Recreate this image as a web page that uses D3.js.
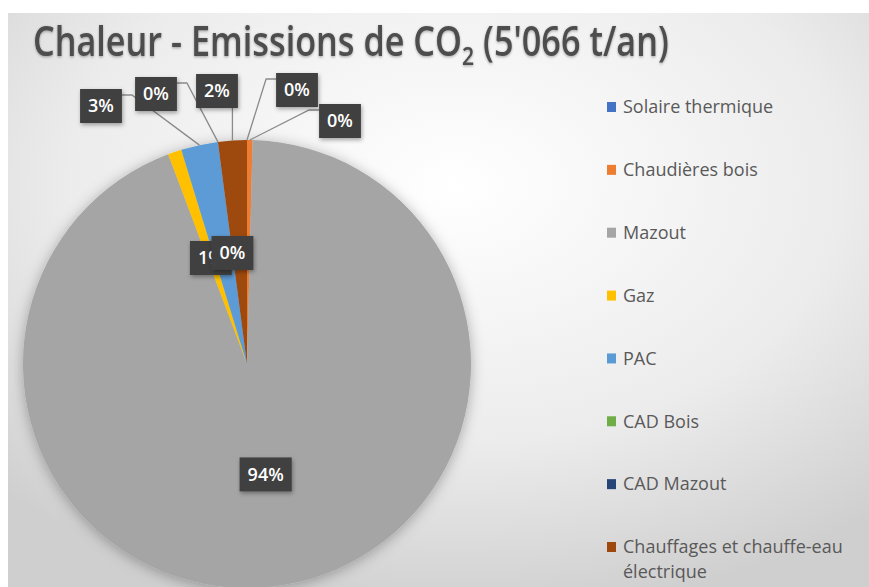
<!DOCTYPE html>
<html lang="fr">
<head>
    <meta charset="UTF-8">
    <title>Chaleur - Emissions de CO2</title>
    <script src="https://d3js.org/d3.v7.min.js"></script>
    <style>
        body { margin: 0; background: #ffffff; }
        svg { display: block; font-family: "Open Sans", "DejaVu Sans", sans-serif; }
    </style>
</head>
<body>
    <svg width="869" height="587"></svg>

    <script>
        // --- données ---
        const categories = ["Solaire thermique", "Chaudières bois", "Mazout", "Gaz", "PAC",
                            "CAD Bois", "CAD Mazout", "Chauffages et chauffe-eau électrique"];
        const emissions = [0, 20, 4756, 50, 135, 0, 0, 105];   // t CO2 / an
        const colors = ["#4472C4", "#ED7D31", "#A5A5A5", "#FFC000", "#5B9BD5",
                        "#70AD47", "#264478", "#9E480E"];

        const svg = d3.select("svg");
        const width = +svg.attr("width");
        const height = +svg.attr("height");

        const cx = 247, cy = 364, radius = 224;

        // étiquettes placées à l'extérieur (décalage depuis le centre du camembert)
        const outerLabels = {
            0: [50, -274],
            1: [93, -243],
            4: [-146, -258],
            5: [-91, -270],
            7: [-30, -273]
        };

        const total = d3.sum(emissions);
        const swiss = d3.formatLocale({ decimal: ".", thousands: "'", grouping: [3], currency: ["", ""] });

        const defs = svg.append("defs");
        const bg = defs.append("radialGradient")
            .attr("id", "bg")
            .attr("cx", "52%").attr("cy", "30%").attr("r", "75%");
        bg.append("stop").attr("offset", "0%").attr("stop-color", "#ffffff");
        bg.append("stop").attr("offset", "60%").attr("stop-color", "#ececec");
        bg.append("stop").attr("offset", "100%").attr("stop-color", "#cfcfcf");

        const shadow = defs.append("filter").attr("id", "shadow")
            .attr("x", "-20%").attr("y", "-20%").attr("width", "140%").attr("height", "140%");
        shadow.append("feDropShadow")
            .attr("dx", 0).attr("dy", 2).attr("stdDeviation", 7)
            .attr("flood-color", "#000").attr("flood-opacity", 0.3);

        const boxShadow = defs.append("filter").attr("id", "boxShadow")
            .attr("x", "-30%").attr("y", "-30%").attr("width", "160%").attr("height", "160%");
        boxShadow.append("feDropShadow")
            .attr("dx", 1).attr("dy", 2).attr("stdDeviation", 2)
            .attr("flood-color", "#000").attr("flood-opacity", 0.35);

        const titleShadow = defs.append("filter").attr("id", "titleShadow");
        titleShadow.append("feDropShadow")
            .attr("dx", 0).attr("dy", 1).attr("stdDeviation", 1.5)
            .attr("flood-color", "#000").attr("flood-opacity", 0.35);

        // fond du graphique
        svg.append("rect")
            .attr("x", 8).attr("y", 13)
            .attr("width", width - 8).attr("height", height - 13)
            .attr("fill", "url(#bg)");

        // titre (resserré horizontalement pour imiter une police étroite)
        const titleG = svg.append("g");
        const title = titleG.append("text")
            .attr("x", 0).attr("y", 0)
            .attr("font-size", 42)
            .attr("font-weight", 600)
            .attr("fill", "#4d4d4d")
            .attr("filter", "url(#titleShadow)");
        title.append("tspan").text("Chaleur - Emissions de CO");
        title.append("tspan").attr("font-size", 26).attr("dy", 9).text("2");
        title.append("tspan").attr("dy", -9).text(` (${swiss.format(",")(total)} t/an)`);
        const titleW = title.node().getComputedTextLength();
        titleG.attr("transform", `translate(33,56) scale(${636 / titleW},1)`);

        // camembert
        const pie = d3.pie().sort(null).value(d => d)(emissions);
        const arc = d3.arc().innerRadius(0).outerRadius(radius);

        const g = svg.append("g").attr("transform", `translate(${cx},${cy})`);

        g.append("g")
            .attr("filter", "url(#shadow)")
            .selectAll("path")
            .data(pie)
            .join("path")
            .attr("d", arc)
            .attr("fill", (d, i) => colors[i]);

        const pct = v => Math.round(v / total * 100) + "%";
        const midAngle = d => (d.startAngle + d.endAngle) / 2;

        const labels = pie.map((d, i) => {
            const a = midAngle(d);
            const edge = [radius * Math.sin(a), -radius * Math.cos(a)];
            const pos = outerLabels[i] ? outerLabels[i] : arc.centroid(d);
            return { i, text: pct(d.value), pos, edge, outer: !!outerLabels[i] };
        });

        const boxH = 34;
        const labelLayer = g.append("g");

        // mesure des textes pour la taille des boîtes
        const probe = labelLayer.append("text")
            .attr("font-size", 18).attr("font-weight", 600);
        labels.forEach(l => {
            probe.text(l.text);
            l.w = probe.node().getComputedTextLength() + 16;
        });
        probe.remove();

        // lignes de rappel
        labels.filter(l => l.outer).forEach(l => {
            const [x, y] = l.pos;
            const left = x - l.w / 2, right = x + l.w / 2, top = y - boxH / 2, bottom = y + boxH / 2;
            const [ex, ey] = l.edge;
            let pts;
            if (ex >= left && ex <= right) {
                pts = [[ex, bottom], [ex, ey]];
            } else if (ex < left) {
                pts = [[left, top + 6], [left - 10, top + 6], [ex, ey]];
            } else {
                pts = [[right, top + 6], [right + 10, top + 6], [ex, ey]];
            }
            labelLayer.append("path")
                .attr("d", d3.line()(pts))
                .attr("fill", "none")
                .attr("stroke", "#8a8a8a")
                .attr("stroke-width", 1.3);
        });

        const lab = labelLayer.selectAll("g.lab")
            .data(labels)
            .join("g")
            .attr("class", "lab")
            .attr("transform", l => `translate(${l.pos[0]},${l.pos[1]})`);

        lab.append("rect")
            .attr("x", l => -l.w / 2)
            .attr("y", -boxH / 2)
            .attr("width", l => l.w)
            .attr("height", boxH)
            .attr("fill", "#404040")
            .attr("filter", "url(#boxShadow)");

        lab.append("text")
            .attr("text-anchor", "middle")
            .attr("dy", "0.36em")
            .attr("font-size", 18)
            .attr("font-weight", 600)
            .attr("fill", "#ffffff")
            .text(l => l.text);

        // légende
        const ly = d3.scalePoint().domain(categories).range([107, 547]);
        const legend = svg.append("g")
            .selectAll("g")
            .data(categories)
            .join("g")
            .attr("transform", c => `translate(607,${ly(c)})`);

        legend.append("rect")
            .attr("x", 0).attr("y", -5)
            .attr("width", 9).attr("height", 10)
            .attr("fill", (c, i) => colors[i]);

        legend.append("text")
            .attr("x", 16)
            .attr("font-size", 18)
            .attr("fill", "#595959")
            .each(function (c) {
                const t = d3.select(this);
                const words = c.split(" ");
                let line = [];
                let tspan = t.append("tspan").attr("x", 16).attr("dy", "0.35em");
                words.forEach(w => {
                    line.push(w);
                    tspan.text(line.join(" "));
                    if (tspan.node().getComputedTextLength() > 245 && line.length > 1) {
                        line.pop();
                        tspan.text(line.join(" "));
                        line = [w];
                        tspan = t.append("tspan").attr("x", 16).attr("dy", "1.4em").text(w);
                    }
                });
            });
    </script>
</body>
</html>
